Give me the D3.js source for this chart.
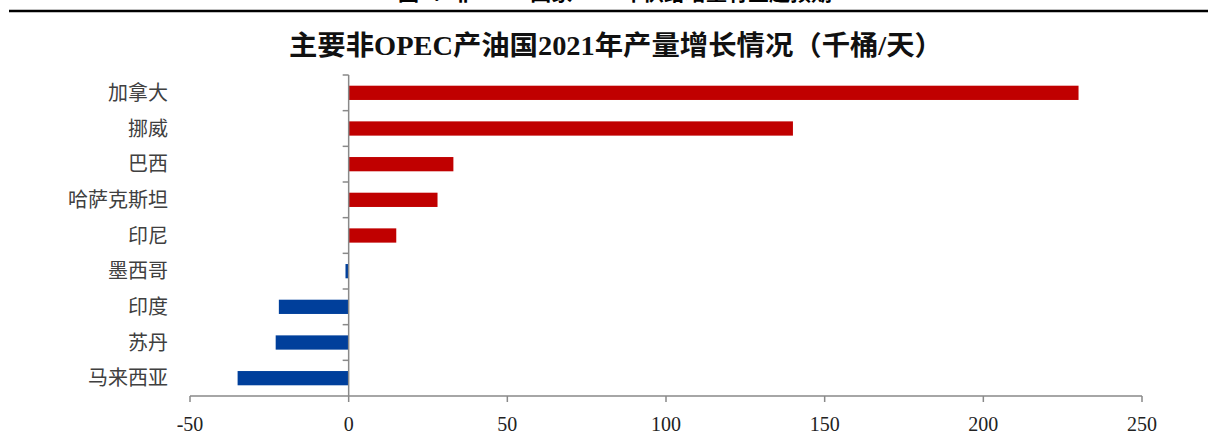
<!DOCTYPE html>
<html lang="zh">
<head>
  <meta charset="utf-8">
  <title>主要非OPEC产油国2021年产量增长情况</title>
  <style>
    html, body { margin: 0; padding: 0; background: #fff; }
    #chart { width: 1208px; height: 439px; overflow: hidden; }
    .cat text { font-family: "Noto Sans CJK SC", sans-serif; font-size: 20px; fill: #404040; }
    .xlab text { font-family: "Liberation Serif", "Times New Roman", serif; font-size: 20px; fill: #222; }
  </style>
</head>
<body>
  <div id="chart"></div>

  <script src="https://cdn.jsdelivr.net/npm/d3@7"></script>
  <script>
    // data
    var countries = ["加拿大", "挪威", "巴西", "哈萨克斯坦", "印尼", "墨西哥", "印度", "苏丹", "马来西亚"];
    var growth = [230, 140, 33, 28, 15, -1, -22, -23, -35];
    var xTicks = [-50, 0, 50, 100, 150, 200, 250];
    var title = "主要非OPEC产油国2021年产量增长情况（千桶/天）";
    var topCaption = "图3：非OPEC国家2021年供给增量有望超预期";

    var width = 1208,
        height = 439;

    var svg = d3.select("#chart")
        .append("svg")
        .attr("width", width)
        .attr("height", height);

    // caption cut off by the top edge, as in the source page
    svg.append("text")
        .attr("x", 615)
        .attr("y", 0)
        .attr("text-anchor", "middle")
        .style("font-family", "'Noto Sans CJK SC', sans-serif")
        .style("font-weight", "bold")
        .style("font-size", "21px")
        .attr("fill", "#000")
        .text(topCaption);

    svg.append("line")
        .attr("x1", 9).attr("x2", width)
        .attr("y1", 11).attr("y2", 11)
        .attr("stroke", "#000")
        .attr("stroke-width", 2.5);

    svg.append("text")
        .attr("x", 616)
        .attr("y", 55)
        .attr("text-anchor", "middle")
        .attr("textLength", 654)
        .attr("lengthAdjust", "spacingAndGlyphs")
        .style("font-family", "'Liberation Serif', 'Noto Sans CJK SC', serif")
        .style("font-weight", "bold")
        .style("font-size", "27px")
        .attr("fill", "#111")
        .text(title);

    var x = d3.scaleLinear().domain([-50, 250]).range([190, 1142]);
    var y = d3.scaleBand().domain(countries).range([75, 396])
        .paddingInner(0.6).paddingOuter(0.3);

    var axisColor = "#898989";

    // bars
    svg.selectAll(".bar")
        .data(countries)
      .enter().append("rect")
        .attr("class", "bar")
        .attr("x", function(d, i) { return x(Math.min(0, growth[i])); })
        .attr("width", function(d, i) { return Math.abs(x(growth[i]) - x(0)); })
        .attr("y", function(d) { return y(d); })
        .attr("height", y.bandwidth())
        .attr("fill", function(d, i) { return growth[i] >= 0 ? "#C00000" : "#003F9B"; });

    // x axis
    var xAxis = svg.append("g");
    xAxis.append("line")
        .attr("x1", x(-50)).attr("x2", x(250))
        .attr("y1", 396).attr("y2", 396)
        .attr("stroke", axisColor).attr("stroke-width", 1.5);
    xAxis.selectAll(".xt")
        .data(xTicks)
      .enter().append("line")
        .attr("x1", function(d) { return x(d); })
        .attr("x2", function(d) { return x(d); })
        .attr("y1", 396).attr("y2", 402)
        .attr("stroke", axisColor).attr("stroke-width", 1.5);
    xAxis.append("g").attr("class", "xlab")
        .selectAll("text")
        .data(xTicks)
      .enter().append("text")
        .attr("x", function(d) { return x(d); })
        .attr("y", 431)
        .attr("text-anchor", "middle")
        .text(function(d) { return d; });

    // y axis at zero
    var yAxis = svg.append("g");
    var step = y.step();
    var y0 = y.range()[0];
    yAxis.append("line")
        .attr("x1", x(0)).attr("x2", x(0))
        .attr("y1", y0).attr("y2", 396)
        .attr("stroke", axisColor).attr("stroke-width", 1.5);
    yAxis.selectAll(".yt")
        .data(d3.range(countries.length))
      .enter().append("line")
        .attr("x1", x(0) - 6).attr("x2", x(0))
        .attr("y1", function(i) { return y0 + i * step; })
        .attr("y2", function(i) { return y0 + i * step; })
        .attr("stroke", axisColor).attr("stroke-width", 1.5);

    svg.append("g").attr("class", "cat")
        .selectAll("text")
        .data(countries)
      .enter().append("text")
        .attr("x", 168)
        .attr("y", function(d) { return y(d) + y.bandwidth() / 2; })
        .attr("dy", "0.35em")
        .attr("text-anchor", "end")
        .text(function(d) { return d; });
  </script>
</body>
</html>
